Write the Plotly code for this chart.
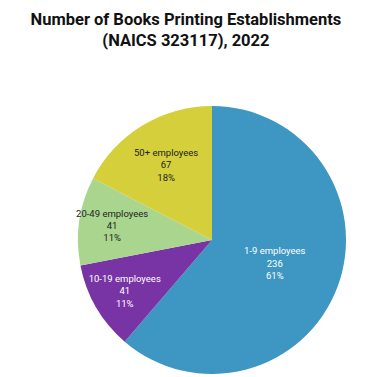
import plotly.graph_objects as go

labels = ["1-9 employees", "10-19 employees", "20-49 employees", "50+ employees"]
values = [236, 41, 41, 67]
percents = [61, 11, 11, 18]
colors = ["#3D97C2", "#7834A4", "#A9D58F", "#D5CF3B"]
text_colors = ["#FFFFFF", "#FFFFFF", "#222222", "#222222"]

fig = go.Figure(go.Pie(
    labels=labels,
    values=values,
    customdata=percents,
    sort=False,
    direction="clockwise",
    rotation=0,
    marker=dict(colors=colors, line=dict(width=0)),
    texttemplate="%{label}<br>%{value}<br>%{customdata}%",
    textposition="inside",
    insidetextorientation="horizontal",
    textfont=dict(family="Roboto", size=9.5, color=text_colors),
    hoverinfo="label+value",
    showlegend=False,
))

fig.update_layout(
    width=377, height=377,
    margin=dict(l=70, r=39, t=98, b=11),
    paper_bgcolor="white",
    uniformtext=dict(minsize=9.5, mode="show"),
    title=dict(
        text="<b>Number of Books Printing Establishments<br>(NAICS 323117), 2022</b>",
        x=0.472, xanchor="center", xref="container",
        y=0.956, yanchor="top", yref="container",
        font=dict(family="Roboto", size=16.5, color="#111111"),
    ),
)

fig.write_html("out.html")
